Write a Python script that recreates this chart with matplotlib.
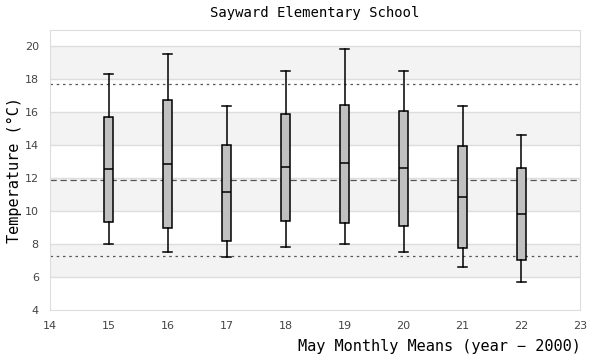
import matplotlib
matplotlib.use('Agg')
import matplotlib.pyplot as plt

# years (minus 2000) and box statistics
years = [15, 16, 17, 18, 19, 20, 21, 22]
whislo = [7.98, 7.50, 7.19, 7.80, 7.98, 7.50, 6.59, 5.68]
q1 = [9.31, 8.95, 8.20, 9.38, 9.25, 9.07, 7.74, 7.01]
med = [12.53, 12.83, 11.13, 12.65, 12.89, 12.59, 10.85, 9.80]
q3 = [15.74, 16.77, 14.04, 15.92, 16.47, 16.10, 13.98, 12.59]
whishi = [18.35, 19.56, 16.35, 18.53, 19.86, 18.53, 16.35, 14.59]

mean_line = 11.88
upper_line = 17.74
lower_line = 7.25

fig = plt.figure(figsize=(6, 3.6), dpi=100)
ax = fig.add_axes([0.0833, 0.139, 0.884, 0.778])

# alternating bands
for lo in [6, 10, 14, 18]:
    ax.axhspan(lo, lo + 2, color='#f3f3f3', zorder=0, lw=0)
for y in range(6, 21, 2):
    ax.axhline(y, color='#dddddd', lw=1, zorder=1)

ax.axhline(upper_line, color='#555555', lw=0.9, ls=(0, (2, 3)), zorder=2)
ax.axhline(lower_line, color='#555555', lw=0.9, ls=(0, (2, 3)), zorder=2)
ax.axhline(mean_line, color='#555555', lw=0.9, ls=(0, (5, 3)), zorder=2)

stats = []
for i in range(len(years)):
    stats.append(dict(whislo=whislo[i], q1=q1[i], med=med[i], q3=q3[i],
                      whishi=whishi[i], fliers=[]))
ax.bxp(stats, positions=years, widths=0.15, patch_artist=True,
       showfliers=False, manage_ticks=False,
       boxprops=dict(facecolor='#c0c0c0', edgecolor='black', lw=1.1),
       medianprops=dict(color='black', lw=1.1),
       whiskerprops=dict(color='black', lw=1.1),
       capprops=dict(color='black', lw=1.1), capwidths=0.15, zorder=3)

ax.set_xlim(14, 23)
ax.set_ylim(4, 21)
ax.set_xticks(range(14, 24))
ax.set_yticks(range(4, 21, 2))
ax.tick_params(length=0, labelsize=8, labelcolor='#444444', pad=8)
for s in ax.spines.values():
    s.set_color('#dddddd')

ax.set_title('Sayward Elementary School', family='DejaVu Sans Mono',
             fontsize=10, pad=9)
ax.set_ylabel('Temperature (°C)', family='DejaVu Sans Mono', fontsize=11,
              labelpad=2)
ax.set_xlabel('May Monthly Means (year − 2000)', family='DejaVu Sans Mono',
              fontsize=11, loc='right', labelpad=6)

fig.savefig('out.png', dpi=100)
